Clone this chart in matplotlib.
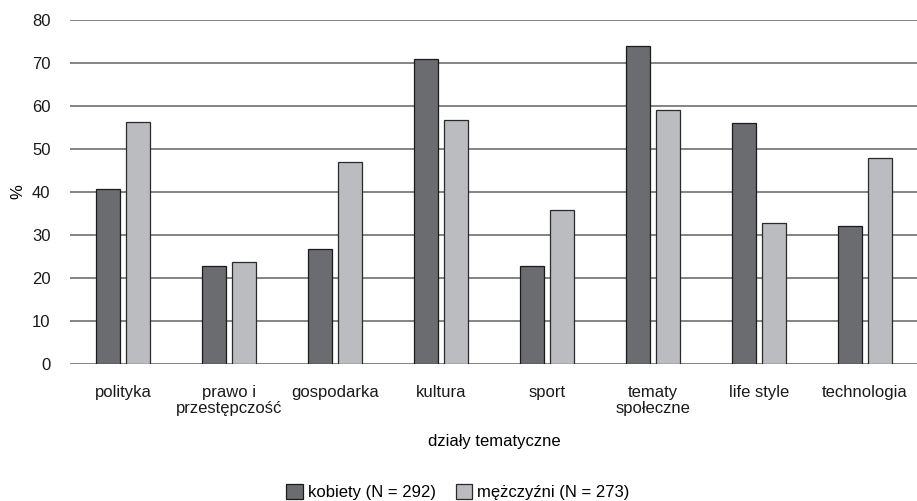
import numpy as np
import matplotlib.pyplot as plt

categories = ["polityka", "prawo i\nprzestępczość", "gospodarka", "kultura",
              "sport", "tematy\nspołeczne", "life style", "technologia"]
kobiety = [40.6, 22.7, 26.7, 71.0, 22.8, 74.0, 56.0, 32.1]
mezczyzni = [56.2, 23.7, 47.0, 56.7, 35.8, 59.0, 32.9, 47.8]
yticks = [0, 10, 20, 30, 40, 50, 60, 70, 80]

plt.rcParams['font.family'] = ['Liberation Sans', 'DejaVu Sans']
plt.rcParams['font.size'] = 12

fig = plt.figure(figsize=(9.17, 5.01), dpi=100)
ax = fig.add_axes([70 / 917, 1 - 364 / 501, 848 / 917, 344 / 501])

x = np.arange(len(categories))
w = 0.22
off = 0.142
ax.bar(x - off, kobiety, w, color='#6b6c70', edgecolor='#1a1a1a', linewidth=0.9,
       label='kobiety (N = 292)', zorder=3)
ax.bar(x + off, mezczyzni, w, color='#bbbcc0', edgecolor='#2a2a2a', linewidth=0.9,
       label='mężczyźni (N = 273)', zorder=3)

ax.set_xlim(-0.5, len(categories) - 0.5)
ax.set_ylim(0, 80)
ax.set_yticks(yticks)
ax.yaxis.grid(True, color='#7a7a7a', linewidth=1.3, zorder=0)
ax.set_axisbelow(True)
for s in ax.spines.values():
    s.set_visible(False)
ax.tick_params(axis='both', length=0, colors='#1a1a1a')
ax.tick_params(axis='y', pad=14)
ax.tick_params(axis='x', pad=15)
ax.set_xticks(x)
ax.set_xticklabels(categories, linespacing=1.1)

ax.set_ylabel('%')
ax.yaxis.set_label_coords(-45 / 848, 0.5)
ax.set_xlabel('działy tematyczne', labelpad=13)

ax.legend(loc='center', bbox_to_anchor=(458 / 917, 1 - 492 / 501),
          bbox_transform=fig.transFigure, ncol=2, frameon=False,
          handlelength=1.0, handleheight=1.0, handletextpad=0.3,
          columnspacing=1.2)

fig.savefig('out.png', dpi=100)
